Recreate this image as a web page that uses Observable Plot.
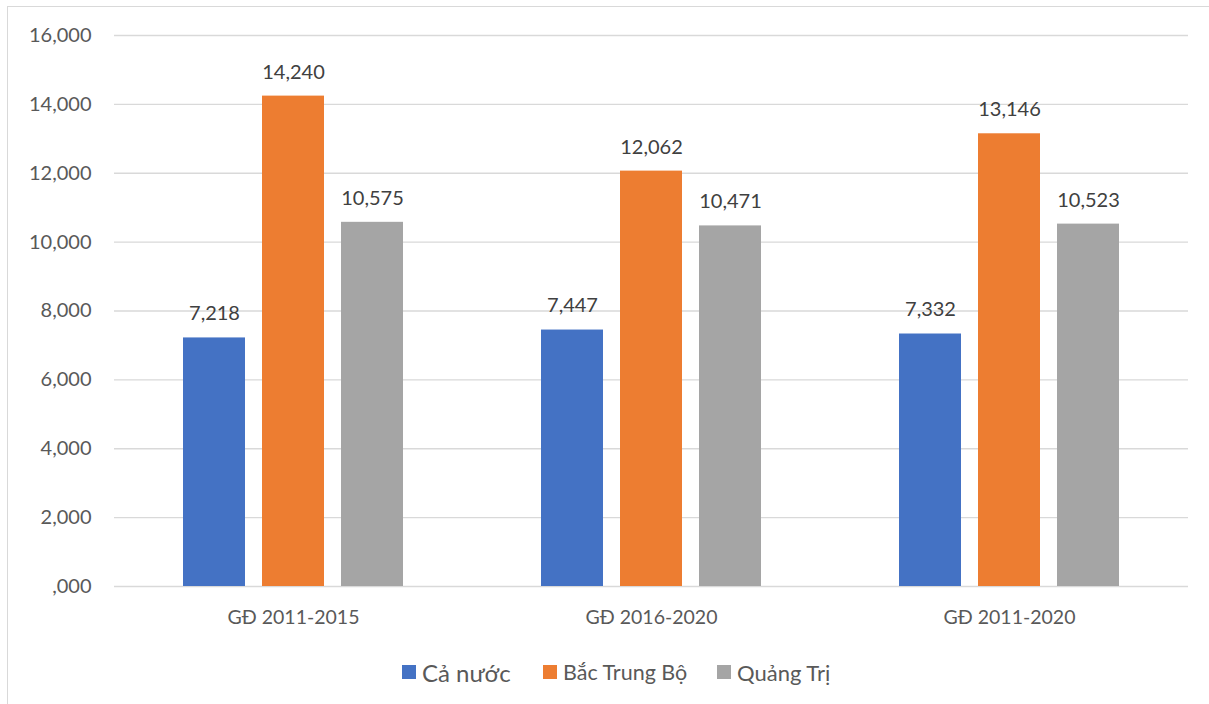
<!DOCTYPE html>
<html><head><meta charset="utf-8">
<script src="https://cdn.jsdelivr.net/npm/d3@7"></script>
<script src="https://cdn.jsdelivr.net/npm/@observablehq/plot@0.6"></script>
<style>
html,body{margin:0;padding:0;background:#fff;}
#wrap{position:relative;width:1209px;height:704px;overflow:hidden;font-family:Lato,"Noto Sans",sans-serif;}
#border{position:absolute;left:7px;top:6px;width:1230px;height:730px;border:1px solid #d9d9d9;box-sizing:border-box;}
#chart{position:absolute;left:0;top:0;}
#legend{position:absolute;left:0;top:640px;width:1209px;height:64px;}
.li{position:absolute;top:0;height:64px;display:flex;align-items:center;color:#595959;}
.sw{width:14px;height:14px;margin-right:6px;}
</style></head>
<body><div id="wrap"><div id="border"></div><div id="chart"></div><div id="legend"></div></div>
<script>
const categories = ["GĐ 2011-2015", "GĐ 2016-2020", "GĐ 2011-2020"];
const series = ["Cả nước", "Bắc Trung Bộ", "Quảng Trị"];
const caNuoc = [7218, 7447, 7332];
const bacTrungBo = [14240, 12062, 13146];
const quangTri = [10575, 10471, 10523];
const colors = ["#4472C4", "#ED7D31", "#A5A5A5"];
const yTicks = [0, 2000, 4000, 6000, 8000, 10000, 12000, 14000, 16000];
const yTickLabels = [",000", "2,000", "4,000", "6,000", "8,000", "10,000", "12,000", "14,000", "16,000"];

const seriesValues = [caNuoc, bacTrungBo, quangTri];
const data = [];
categories.forEach((c, i) => series.forEach((s, j) => data.push({cat: c, series: s, value: seriesValues[j][i]})));

const fmt = d3.format(",");
const chart = Plot.plot({
  width: 1209, height: 640,
  marginLeft: 113, marginRight: 21, marginTop: 35, marginBottom: 54,
  style: {fontFamily: "Lato, 'Noto Sans', sans-serif", color: "#595959", background: "transparent"},
  fx: {domain: categories, padding: 0, label: null},
  x: {domain: series, paddingInner: 0.22, paddingOuter: 0.86, axis: null},
  y: {domain: [0, 16000], label: null},
  color: {domain: series, range: colors},
  marks: [
    Plot.gridY(yTicks, {stroke: "#d9d9d9", strokeOpacity: 1, strokeWidth: 1.3}),
    Plot.axisY({ticks: yTicks, tickFormat: d => yTickLabels[yTicks.indexOf(d)], tickSize: 0, tickPadding: 23, fontSize: 20, label: null}),
    Plot.axisFx({tickSize: 0, tickPadding: 24, fontSize: 19.5, label: null, anchor: "bottom"}),
    Plot.barY(data, {fx: "cat", x: "series", y: "value", fill: "series"}),
    Plot.text(data, {fx: "cat", x: "series", y: "value", text: d => fmt(d.value), dy: -24, fontSize: 20, fill: "#404040"})
  ]
});
document.getElementById("chart").appendChild(chart);

const legend = document.getElementById("legend");
const lx = [402, 543, 717];
const lsize = [24, 21.5, 22];
series.forEach((s, i) => {
  const d = document.createElement("div");
  d.className = "li";
  d.style.left = lx[i] + "px";
  d.innerHTML = `<div class="sw" style="background:${colors[i]}"></div><span style="font-size:${lsize[i]}px">${s}</span>`;
  legend.appendChild(d);
});
</script></body></html>
